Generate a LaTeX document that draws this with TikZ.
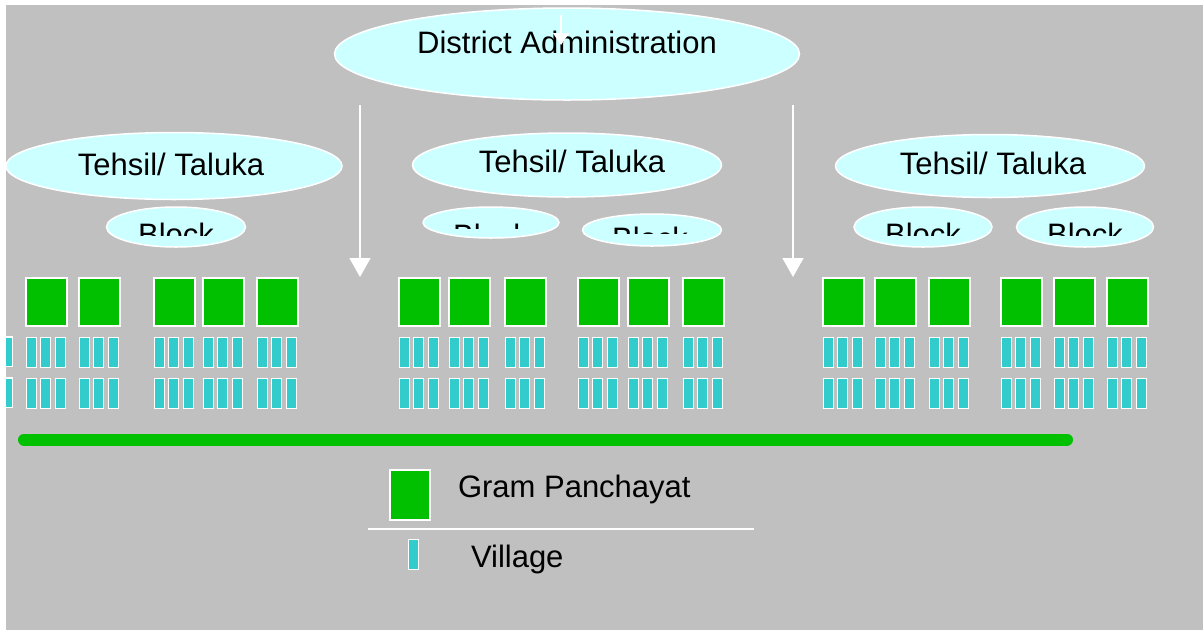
\documentclass[tikz,border=0pt]{standalone}
\usepackage{fontspec}
\setmainfont{Liberation Sans}
\usepackage{tikz}
\usetikzlibrary{shapes.geometric,arrows.meta}

\definecolor{slidegrey}{HTML}{C0C0C0}
\definecolor{bubble}{HTML}{CCFFFF}
\definecolor{gpgreen}{HTML}{00C000}
\definecolor{villcyan}{HTML}{33CCCC}

\begin{document}
\begin{tikzpicture}[x=1pt, y=-1pt,
      every node/.append style={inner sep=0pt, outer sep=0pt, font=\fontsize{31}{37}\selectfont},
      unit/.style={ellipse, draw=white, line width=1.5pt, fill=bubble},
      gp/.style={rectangle, draw=white, line width=1.5pt, fill=gpgreen, minimum width=41pt, minimum height=48pt, anchor=north west},
      vill/.style={rectangle, draw=white, line width=1.2pt, fill=villcyan, minimum width=9.5pt, minimum height=29.5pt, anchor=north west},
      down/.style={draw=white, line width=1.5pt, -{Triangle[width=21pt,length=19pt]}}]
    \tikzstyle{word} = [anchor=base, text=black]
    \useasboundingbox (0,0) rectangle (1203,630);
    \fill[slidegrey] (6,5) rectangle (1203,630);
    \begin{scope}
    \clip (6,5) rectangle (1203,630);
    % district and tehsils
    \node[unit, minimum width=465pt, minimum height=92pt] (district) at (567,54) {};
    \node[word] (district-txt) at (567,53) {District Administration};
    \node[unit, minimum width=336pt, minimum height=67pt] (tehsil-l) at (174,166) {};
    \node[unit, minimum width=309pt, minimum height=64pt] (tehsil-m) at (567,165) {};
    \node[unit, minimum width=309pt, minimum height=63pt] (tehsil-r) at (990,166) {};
    \node[word] (tehsil-l-txt) at (171,175) {Tehsil/ Taluka};
    \node[word] (tehsil-m-txt) at (572,172) {Tehsil/ Taluka};
    \node[word] (tehsil-r-txt) at (993,174) {Tehsil/ Taluka};
    % blocks, text cut off at the bottom
    \node[unit, minimum width=139pt, minimum height=40pt] (block-l) at (176,227) {};
    \node[unit, minimum width=136pt, minimum height=31pt] (block-m1) at (491,222.5) {};
    \node[unit, minimum width=139pt, minimum height=32pt] (block-m2) at (652,230) {};
    \node[unit, minimum width=138pt, minimum height=40pt] (block-r1) at (923,227) {};
    \node[unit, minimum width=137pt, minimum height=40pt] (block-r2) at (1085,227) {};
    \foreach \bx/\by/\cut/\nm in {176/245/235/l, 491/246/228/m1, 650/249/233/m2, 923/245/235/r1, 1085/245/235/r2} {
      \begin{scope}
        \clip (\bx-70,200) rectangle (\bx+70,\cut);
        \node[word] (block-\nm-txt) at (\bx,\by) {Block};
      \end{scope}
    }
    % gram panchayats with their villages
    \node[vill] (v-0-a) at (3,337) {};
    \node[vill] (v-0-b) at (3,378) {};
    \foreach \x [count=\i] in {25,78,153,202,256,398,448,504,577,627,682,822,874,928,1000,1053,1106} {
      \node[gp] (gp-\i) at (\x+0.75,277.75) {};
      \foreach \o [count=\j] in {1,15,30} {
        \node[vill] (v-\i-\j-a) at (\x+\o+0.6,337.6) {};
        \node[vill] (v-\i-\j-b) at (\x+\o+0.6,378.6) {};
      }
    }
    \draw[gpgreen, line width=12pt, line cap=round] (24,439.5) -- (1067,439.5);
    % arrows
    \coordinate (small-from) at (561,15);
    \coordinate (small-to) at (561,45);
    \draw[draw=white, line width=1.2pt, -{Triangle[width=16pt,length=12pt]}] (small-from) -- (small-to);
    \coordinate (left-from) at (360,105);
    \coordinate (left-to) at (360,277);
    \coordinate (right-from) at (793,105);
    \coordinate (right-to) at (793,277);
    \draw[down] (left-from) -- (left-to);
    \draw[down] (right-from) -- (right-to);
    % legend
    \node[gp, minimum width=40pt, minimum height=50pt] (key-gp) at (389.75,469.75) {};
    \node[word, anchor=base west] (key-gp-txt) at (458,497) {Gram Panchayat};
    \draw[white, line width=1.5pt] (368,529) -- (754,529);
    \node[vill] (key-vill) at (408.6,539.6) {};
    \node[word, anchor=base west] (key-vill-txt) at (471,567) {Village};
    \end{scope}
\end{tikzpicture}
\end{document}
